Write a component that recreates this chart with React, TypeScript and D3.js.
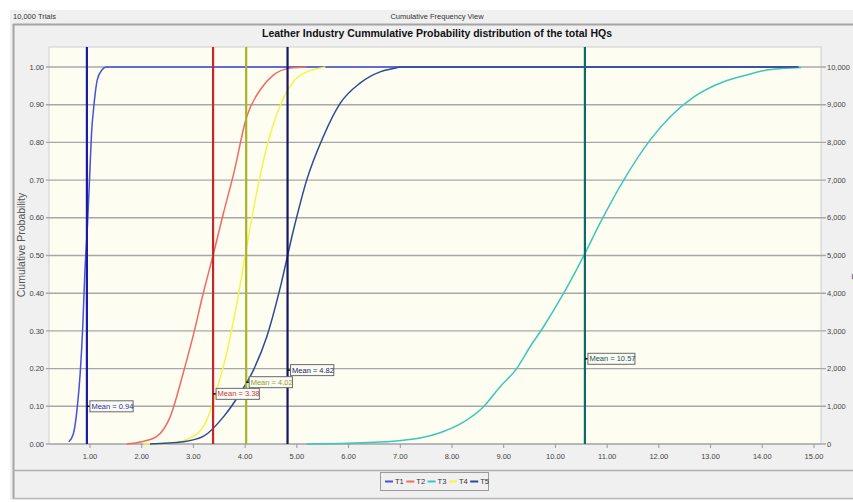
import React from "react";
import * as d3 from "d3";

// cumulative curves: [value, cumulative probability]
const t1: [number, number][] = [
  [0.59, 0.006], [0.68, 0.028], [0.755, 0.099], [0.81, 0.187], [0.86, 0.311],
  [0.9, 0.453], [0.95, 0.577], [0.99, 0.7], [1.03, 0.824], [1.08, 0.904],
  [1.14, 0.966], [1.23, 0.992], [1.31, 1.0], [14.7, 1.0],
];
const t2: [number, number][] = [
  [1.71, 0.0], [2.0, 0.006], [2.29, 0.02], [2.55, 0.072], [2.8, 0.187],
  [3.0, 0.29], [3.19, 0.4], [3.39, 0.506], [3.58, 0.612], [3.78, 0.718],
  [4.03, 0.868], [4.29, 0.939], [4.55, 0.979], [4.87, 0.997], [5.19, 1.0],
];
const t3: [number, number][] = [
  [5.19, 0.0], [6.0, 0.002], [6.6, 0.005], [7.06, 0.01], [7.38, 0.016],
  [7.77, 0.03], [8.22, 0.058], [8.61, 0.099], [8.93, 0.152], [9.25, 0.2],
  [9.51, 0.258], [9.77, 0.311], [10.16, 0.4], [10.54, 0.497], [10.86, 0.585],
  [11.32, 0.7], [11.83, 0.806], [12.22, 0.868], [12.67, 0.92], [13.25, 0.961],
  [13.7, 0.979], [14.09, 0.992], [14.75, 0.999],
];
const t4: [number, number][] = [
  [2.03, 0.0], [2.55, 0.002], [3.0, 0.02], [3.26, 0.064], [3.45, 0.143],
  [3.64, 0.24], [3.84, 0.373], [4.03, 0.523], [4.22, 0.665], [4.42, 0.789],
  [4.67, 0.895], [4.93, 0.961], [5.19, 0.987], [5.45, 0.997], [5.55, 1.0],
];
const t5: [number, number][] = [
  [2.16, 0.0], [2.8, 0.006], [3.19, 0.02], [3.58, 0.072], [3.9, 0.134],
  [4.16, 0.196], [4.42, 0.285], [4.67, 0.41], [4.93, 0.565], [5.19, 0.7],
  [5.51, 0.815], [5.84, 0.904], [6.22, 0.957], [6.61, 0.987], [6.87, 0.996],
  [7.0, 1.0], [14.7, 1.0],
];

const seriesNames = ["T1", "T2", "T3", "T4", "T5"];
const seriesData = [t1, t2, t3, t4, t5];
const seriesColors = ["#4452dc", "#f06a62", "#3cc6bc", "#f4f44a", "#2c4a92"];

// mean markers
const meanValues = [0.94, 3.38, 4.02, 4.82, 10.57];
const meanLabelY = [0.1, 0.133, 0.164, 0.196, 0.226];
const meanLineColors = ["#1c1ca8", "#c4262a", "#a8b424", "#161660", "#0e6a66"];
const meanTextColors = ["#2a2aa8", "#c03a3a", "#98a020", "#1e1e60", "#1a5450"];

const xTicks = d3.range(1, 16);
const yTicks = d3.range(0, 11).map((d) => d / 10);
const freqTicks = d3.range(0, 11).map((d) => d * 1000);

const font = "'Liberation Sans', Arial, sans-serif";

export default function App() {
  const width = 853;
  const height = 502;
  const plot = { left: 49, right: 821, top: 47, bottom: 444 };

  const x = d3.scaleLinear().domain([1, 15]).range([90, 814]);
  const y = d3.scaleLinear().domain([0, 1]).range([444, 67]);
  const yFreq = d3.scaleLinear().domain([0, 10000]).range([444, 67]);

  const line = d3
    .line<[number, number]>()
    .x((d) => x(d[0]))
    .y((d) => y(d[1]))
    .curve(d3.curveMonotoneX);

  const fmtFreq = d3.format(",");

  return (
    <svg
      width={width}
      height={height}
      style={{ position: "absolute", left: 0, top: 0, fontFamily: font }}
    >
      <rect x={0} y={0} width={width} height={height} fill="#ffffff" />
      <rect x={10} y={10} width={843} height={490} fill="#f0f0f0" />

      {/* header strip */}
      <text x={13} y={19} fontSize={7.5} fill="#333">10,000 Trials</text>
      <text x={437} y={19} fontSize={7.5} fill="#333" textAnchor="middle">
        Cumulative Frequency View
      </text>

      {/* sunken panel borders */}
      <line x1={13} x2={853} y1={24.5} y2={24.5} stroke="#a4a4a4" strokeWidth={2} />
      <line x1={13.5} x2={13.5} y1={24} y2={499} stroke="#a4a4a4" strokeWidth={2} />
      <line x1={13} x2={853} y1={470.5} y2={470.5} stroke="#b0b0b0" strokeWidth={1.5} />
      <line x1={13} x2={853} y1={498.5} y2={498.5} stroke="#b8b8b8" strokeWidth={1.5} />

      <text x={437} y={37} fontSize={10.5} fontWeight="bold" fill="#111" textAnchor="middle">
        Leather Industry Cummulative Probability distribution of the total HQs
      </text>

      {/* plot area */}
      <rect
        x={plot.left}
        y={plot.top}
        width={plot.right - plot.left}
        height={plot.bottom - plot.top}
        fill="#fdfdf1"
        stroke="#cfcfcf"
        strokeWidth={1}
      />

      {/* gridlines and y axes */}
      {yTicks.map((t) => (
        <g key={"g" + t}>
          <line
            x1={46}
            x2={826}
            y1={y(t)}
            y2={y(t)}
            stroke="#a8a8a8"
            strokeWidth={1.4}
          />
          <text
            x={44}
            y={y(t)}
            dy="0.35em"
            fontSize={7.5}
            fill="#444"
            textAnchor="end"
          >
            {t.toFixed(2)}
          </text>
        </g>
      ))}
      {freqTicks.map((t) => (
        <text key={"f" + t} x={827} y={yFreq(t)} dy="0.35em" fontSize={7.5} fill="#444">
          {fmtFreq(t)}
        </text>
      ))}

      {/* x axis */}
      {xTicks.map((t) => (
        <g key={"x" + t}>
          <line x1={x(t)} x2={x(t)} y1={plot.bottom} y2={plot.bottom + 4} stroke="#999" />
          <text x={x(t)} y={456} dy="0.35em" fontSize={7.5} fill="#444" textAnchor="middle">
            {t.toFixed(2)}
          </text>
        </g>
      ))}

      <text
        transform={`translate(25,${245}) rotate(-90)`}
        fontSize={10.5}
        fill="#555"
        textAnchor="middle"
      >
        Cumulative Probability
      </text>
      <text
        transform={`translate(860,${255}) rotate(-90)`}
        fontSize={10.5}
        fill="#555"
        textAnchor="middle"
      >
        Frequency
      </text>

      {/* cumulative curves */}
      {seriesData.map((d, i) => (
        <path
          key={seriesNames[i]}
          d={line(d) || ""}
          fill="none"
          stroke={seriesColors[i]}
          strokeWidth={1.5}
        />
      ))}

      {/* mean lines */}
      {meanValues.map((m, i) => (
        <line
          key={"m" + i}
          x1={x(m)}
          x2={x(m)}
          y1={plot.top}
          y2={plot.bottom}
          stroke={meanLineColors[i]}
          strokeWidth={2.2}
        />
      ))}
      {meanValues.map((m, i) => {
        const label = `Mean = ${m.toFixed(2)}`;
        const bx = x(m) + 3;
        const by = y(meanLabelY[i]);
        return (
          <g key={"ml" + i}>
            <line x1={x(m)} x2={bx} y1={by} y2={by} stroke="#111" strokeWidth={1.5} />
            <rect
              x={bx}
              y={by - 5.5}
              width={label.length * 3.75 + 2}
              height={11}
              fill="#fbfbf6"
              stroke="#6a6a6a"
              strokeWidth={1}
            />
            <text x={bx + 1.5} y={by} dy="0.35em" fontSize={7.5} fill={meanTextColors[i]}>
              {label}
            </text>
          </g>
        );
      })}

      {/* legend */}
      <rect x={380.5} y={472.5} width={108} height={18} fill="#f0f0f0" stroke="#9a9a9a" strokeWidth={1} />
      {seriesNames.map((n, i) => {
        const lx = 385 + i * 21.3;
        return (
          <g key={"lg" + n}>
            <line x1={lx} x2={lx + 8} y1={481.5} y2={481.5} stroke={seriesColors[i]} strokeWidth={2} />
            <text x={lx + 10} y={481.5} dy="0.35em" fontSize={7.5} fill="#333">
              {n}
            </text>
          </g>
        );
      })}
    </svg>
  );
}
